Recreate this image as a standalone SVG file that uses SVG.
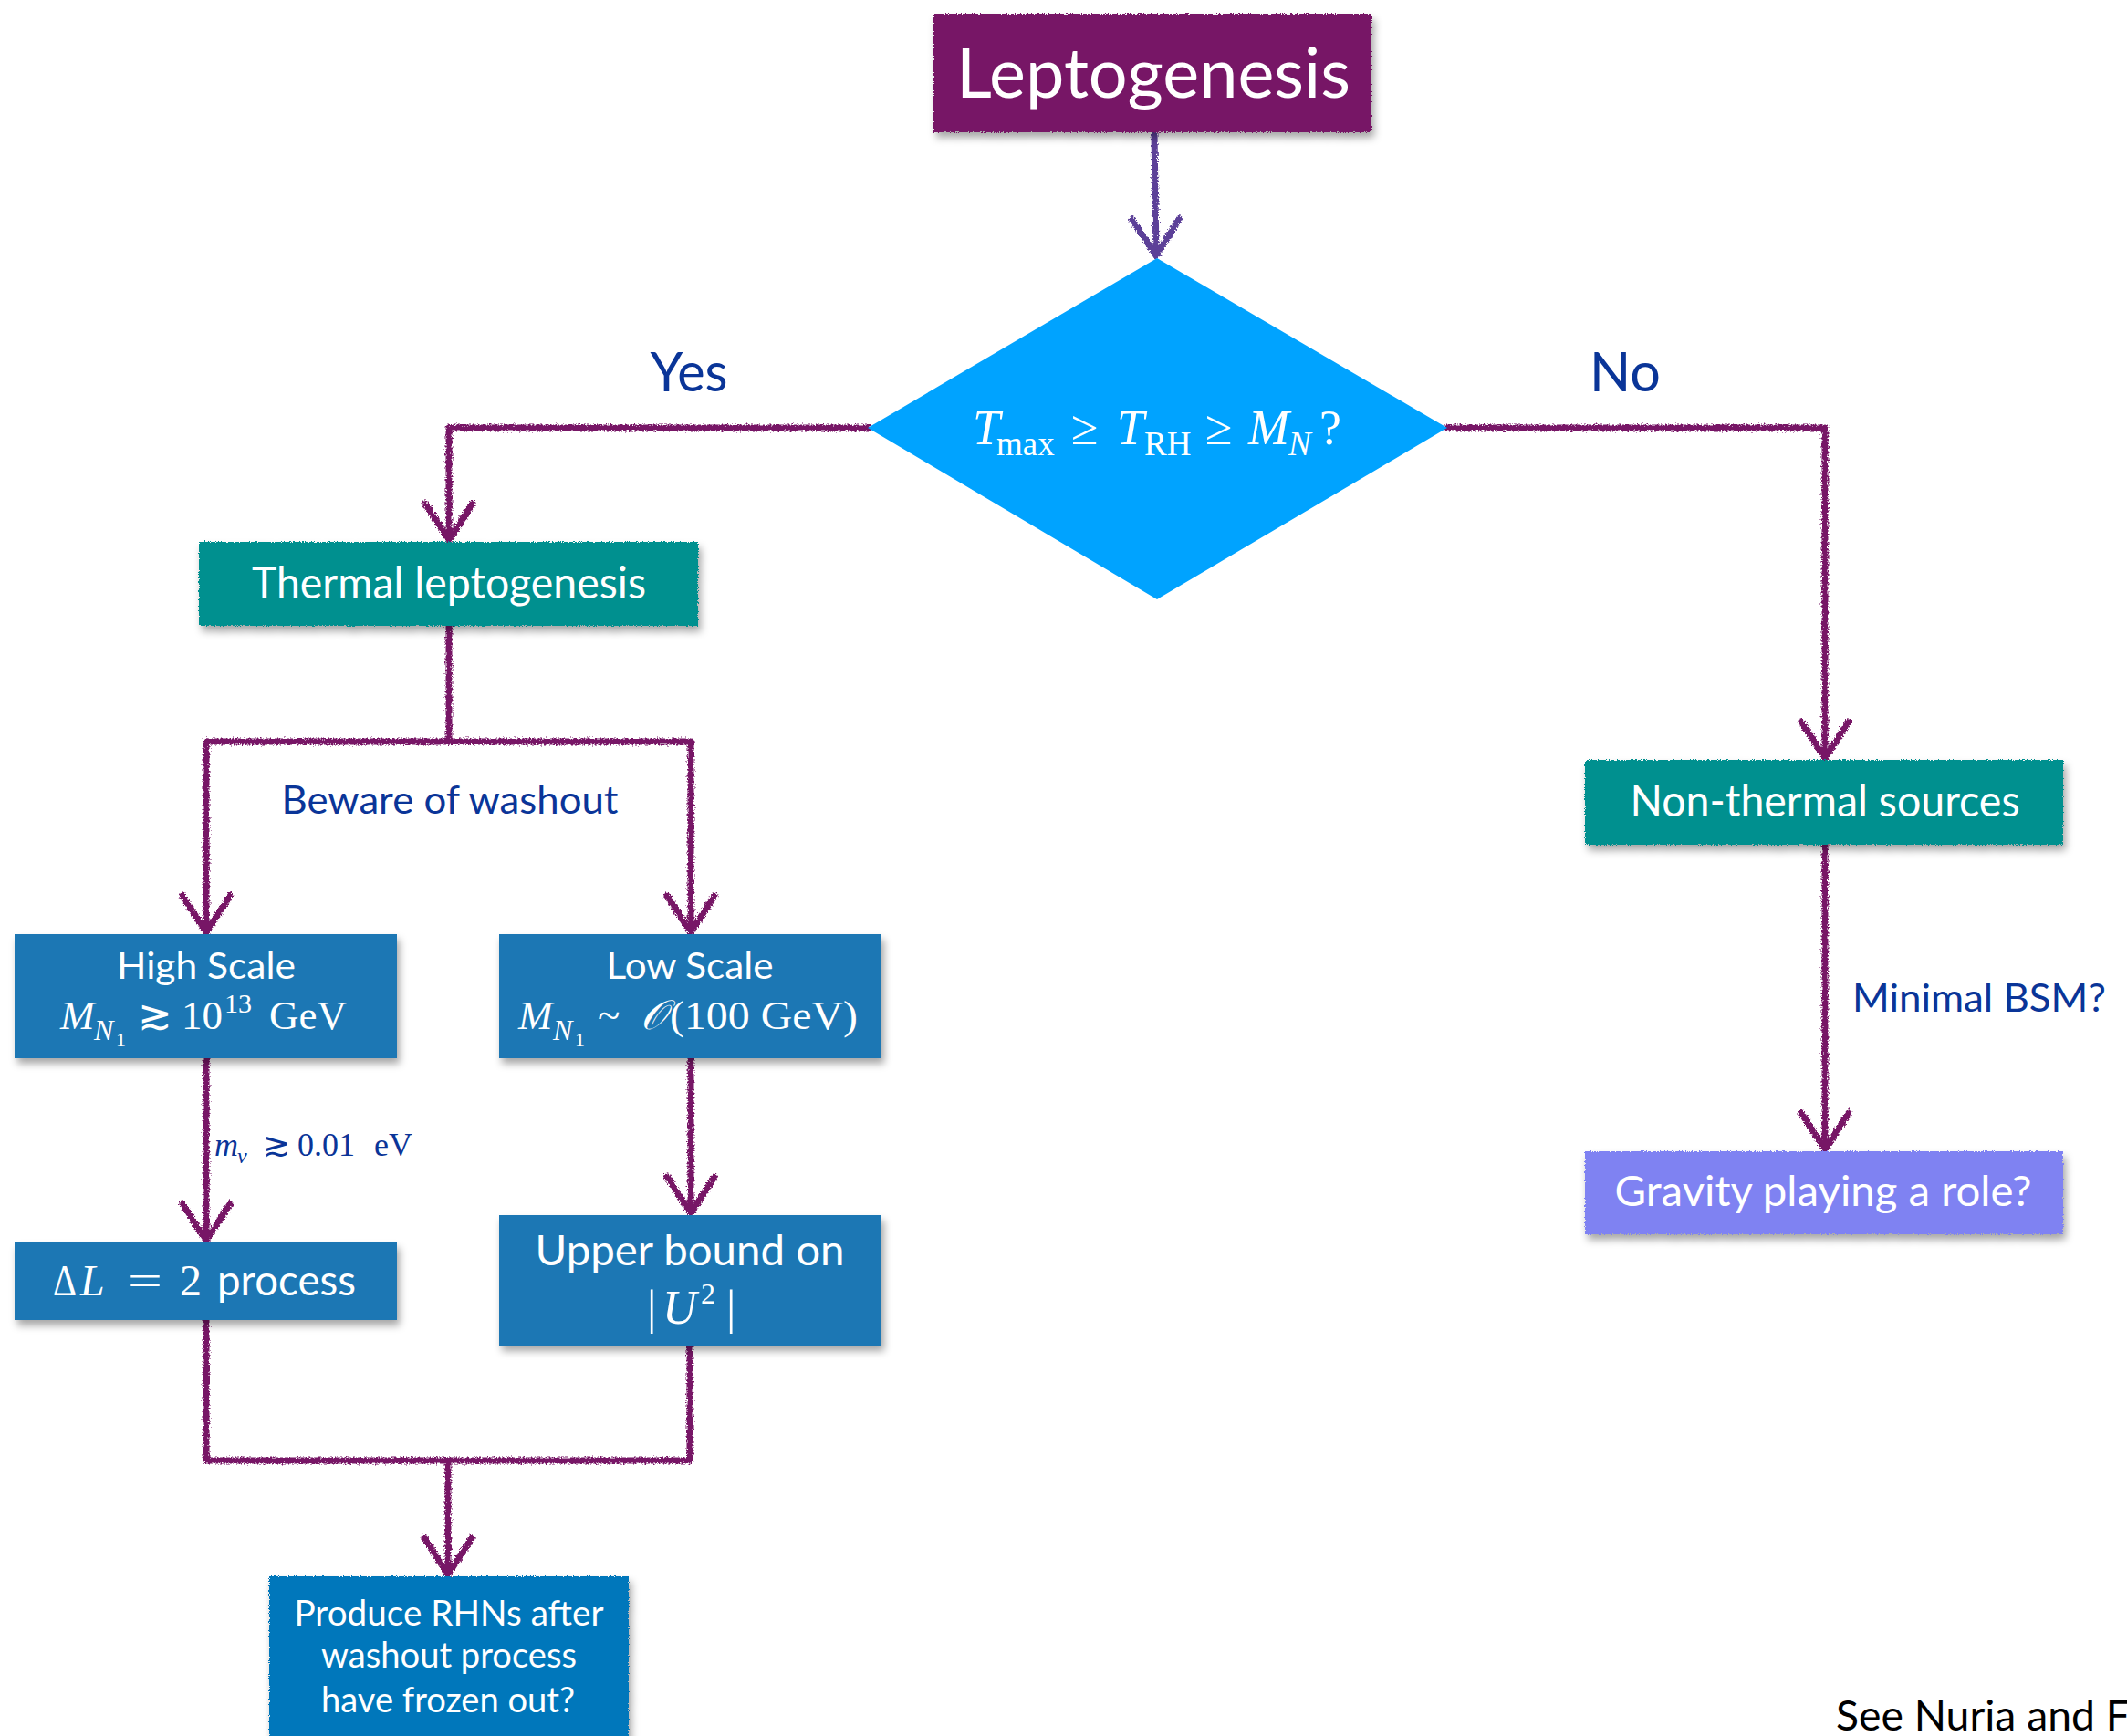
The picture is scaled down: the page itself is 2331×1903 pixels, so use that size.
<svg xmlns="http://www.w3.org/2000/svg" width="2331" height="1903" viewBox="0 0 2331 1903">
<style>
.sans{font-family:"Lato","Open Sans","DejaVu Sans",sans-serif;}
.w{fill:#ffffff;}
.lbl{fill:#0a3598;}
.math{font-family:"Liberation Serif","DejaVu Serif",serif;}
.it{font-style:italic;}
.conn{fill:none;stroke:#771966;stroke-width:7;stroke-linecap:round;stroke-linejoin:round;}
</style>
<defs>
<filter id="chalk" filterUnits="userSpaceOnUse" x="0" y="0" width="2331" height="1903">
<feTurbulence type="fractalNoise" baseFrequency="0.55" numOctaves="3" seed="3" result="n"/>
<feDisplacementMap in="SourceGraphic" in2="n" scale="6" xChannelSelector="R" yChannelSelector="G"/>
</filter>
<filter id="rough" x="-5%" y="-15%" width="112%" height="140%">
<feTurbulence type="fractalNoise" baseFrequency="0.9" numOctaves="2" seed="7" result="n"/>
<feDisplacementMap in="SourceGraphic" in2="n" scale="4" xChannelSelector="R" yChannelSelector="G" result="d"/>
<feDropShadow in="d" dx="3" dy="6" stdDeviation="4" flood-color="#000" flood-opacity="0.35"/>
</filter>
<filter id="shadow" x="-5%" y="-15%" width="112%" height="140%">
<feDropShadow dx="3" dy="6" stdDeviation="4" flood-color="#000" flood-opacity="0.35"/>
</filter>
<marker id="ah" markerUnits="userSpaceOnUse" markerWidth="80" markerHeight="80" refX="0" refY="0" orient="auto" overflow="visible">
<path d="M-40,-26 L0,0 L-40,26" fill="none" stroke="#771966" stroke-width="7" stroke-linecap="round" stroke-linejoin="round"/>
</marker>
<marker id="ah2" markerUnits="userSpaceOnUse" markerWidth="80" markerHeight="80" refX="0" refY="0" orient="auto" overflow="visible">
<path d="M-40,-26 L0,0 L-40,26" fill="none" stroke="#5c3f98" stroke-width="7" stroke-linecap="round" stroke-linejoin="round"/>
</marker>
</defs>
<rect width="2331" height="1903" fill="#ffffff"/>

<g id="connectors" filter="url(#chalk)">
<path class="conn" d="M1265,146 L1267,280" style="stroke:#5c3f98" marker-end="url(#ah2)"/>
<path class="conn" d="M951,469 H492 V592" marker-end="url(#ah)"/>
<path class="conn" d="M1586,469 H2000 V831" marker-end="url(#ah)"/>
<path class="conn" d="M492,686 V813"/>
<path class="conn" d="M226,813 H757"/>
<path class="conn" d="M226,813 V1022" marker-end="url(#ah)"/>
<path class="conn" d="M757,813 V1022" marker-end="url(#ah)"/>
<path class="conn" d="M226,1160 V1360" marker-end="url(#ah)"/>
<path class="conn" d="M757,1160 V1330" marker-end="url(#ah)"/>
<path class="conn" d="M226,1447 V1601 H756 V1475"/>
<path class="conn" d="M491,1601 V1726" marker-end="url(#ah)"/>
<path class="conn" d="M2000,926 V1260" marker-end="url(#ah)"/>
</g>

<g id="edge-labels">
<text class="sans lbl" x="755" y="429" font-size="60" text-anchor="middle" textLength="85" lengthAdjust="spacingAndGlyphs">Yes</text>
<text class="sans lbl" x="1781" y="429" font-size="60" text-anchor="middle" textLength="78" lengthAdjust="spacingAndGlyphs">No</text>
<text class="sans lbl" x="493" y="892" font-size="43" text-anchor="middle" textLength="369" lengthAdjust="spacingAndGlyphs">Beware of washout</text>
<text class="math lbl" font-size="36"><tspan class="it" x="235" y="1267">m</tspan><tspan class="it" x="260" y="1275" font-size="24">ν</tspan><tspan x="288" y="1267">≳</tspan><tspan x="326" y="1267">0.01</tspan><tspan x="410" y="1267">eV</tspan></text>
<text class="sans lbl" x="2030" y="1109" font-size="43" textLength="278" lengthAdjust="spacingAndGlyphs">Minimal BSM?</text>
</g>

<g id="node-leptogenesis">
<rect x="1023" y="15" width="480" height="130" fill="#771966" filter="url(#rough)"/>
<text class="sans w" x="1264" y="107" font-size="76" text-anchor="middle" textLength="432" lengthAdjust="spacingAndGlyphs">Leptogenesis</text>
</g>

<g id="node-condition">
<polygon points="1268,283 1586,469 1268,657 951,469" fill="#00a3ff"/>
<text class="math w" font-size="54"><tspan class="it" x="1066" y="487">T</tspan><tspan x="1092" y="499" font-size="37">max</tspan><tspan x="1174" y="487">≥</tspan><tspan class="it" x="1224" y="487">T</tspan><tspan x="1254" y="499" font-size="37">RH</tspan><tspan x="1321" y="487">≥</tspan><tspan class="it" x="1368" y="487">M</tspan><tspan class="it" x="1412" y="499" font-size="37">N</tspan><tspan x="1446" y="487">?</tspan></text>
</g>

<g id="node-thermal">
<rect x="218" y="594" width="547" height="92" fill="#00908f" filter="url(#rough)"/>
<text class="sans w" x="492" y="656" font-size="48" text-anchor="middle" textLength="432" lengthAdjust="spacingAndGlyphs">Thermal leptogenesis</text>
</g>

<g id="node-nonthermal">
<rect x="1737" y="833" width="524" height="93" fill="#00908f" filter="url(#rough)"/>
<text class="sans w" x="2000" y="895" font-size="48" text-anchor="middle" textLength="427" lengthAdjust="spacingAndGlyphs">Non-thermal sources</text>
</g>

<g id="node-gravity">
<rect x="1737" y="1262" width="524" height="91" fill="#7f82f2" filter="url(#rough)"/>
<text class="sans w" x="1998" y="1322" font-size="46" text-anchor="middle" textLength="457" lengthAdjust="spacingAndGlyphs">Gravity playing a role?</text>
</g>

<g id="node-highscale">
<rect x="16" y="1024" width="419" height="136" fill="#1f77b4" filter="url(#shadow)"/>
<text class="sans w" x="226" y="1073" font-size="40" text-anchor="middle" textLength="196" lengthAdjust="spacingAndGlyphs">High Scale</text>
<text class="math w" font-size="45"><tspan class="it" x="66" y="1128">M</tspan><tspan class="it" x="103" y="1140" font-size="32">N</tspan><tspan x="127" y="1147" font-size="22">1</tspan><tspan x="151" y="1128">≳</tspan><tspan x="199" y="1128">10</tspan><tspan x="246" y="1110" font-size="30">13</tspan><tspan x="295" y="1128">GeV</tspan></text>
</g>

<g id="node-lowscale">
<rect x="547" y="1024" width="419" height="136" fill="#1f77b4" filter="url(#shadow)"/>
<text class="sans w" x="756" y="1073" font-size="40" text-anchor="middle" textLength="183" lengthAdjust="spacingAndGlyphs">Low Scale</text>
<text class="math w" font-size="45"><tspan class="it" x="568" y="1128">M</tspan><tspan class="it" x="606" y="1140" font-size="32">N</tspan><tspan x="630" y="1147" font-size="22">1</tspan><tspan x="655" y="1128">~</tspan><tspan class="it" x="702" y="1128">𝒪</tspan><tspan x="734" y="1128" textLength="206" lengthAdjust="spacingAndGlyphs">(100 GeV)</tspan></text>
</g>

<g id="node-deltaL">
<rect x="16" y="1362" width="419" height="85" fill="#1f77b4" filter="url(#shadow)"/>
<text class="math w" font-size="48"><tspan x="58" y="1420" textLength="26" lengthAdjust="spacingAndGlyphs">Δ</tspan><tspan class="it" x="88" y="1420">L</tspan><tspan x="140" y="1420" textLength="38" lengthAdjust="spacingAndGlyphs">=</tspan><tspan x="197" y="1420">2</tspan></text>
<text class="sans w" x="238" y="1420" font-size="47" textLength="152" lengthAdjust="spacingAndGlyphs">process</text>
</g>

<g id="node-upperbound">
<rect x="547" y="1332" width="419" height="143" fill="#1f77b4" filter="url(#shadow)"/>
<text class="sans w" x="756" y="1387" font-size="46" text-anchor="middle" textLength="339" lengthAdjust="spacingAndGlyphs">Upper bound on</text>
<text class="math w" font-size="52"><tspan x="709" y="1451">|</tspan><tspan class="it" x="726" y="1451">U</tspan><tspan x="768" y="1429" font-size="32">2</tspan><tspan x="796" y="1451">|</tspan></text>
</g>

<g id="node-produce">
<rect x="295" y="1728" width="394" height="200" fill="#0077bb" filter="url(#rough)"/>
<text class="sans w" x="492" y="1782" font-size="38" text-anchor="middle" textLength="339" lengthAdjust="spacingAndGlyphs">Produce RHNs after</text>
<text class="sans w" x="492" y="1828" font-size="38" text-anchor="middle" textLength="280" lengthAdjust="spacingAndGlyphs">washout process</text>
<text class="sans w" x="491" y="1877" font-size="38" text-anchor="middle" textLength="278" lengthAdjust="spacingAndGlyphs">have frozen out?</text>
</g>

<text class="sans" x="2012" y="1897" font-size="47" fill="#000000" textLength="322" lengthAdjust="spacingAndGlyphs">See Nuria and F</text>
</svg>
